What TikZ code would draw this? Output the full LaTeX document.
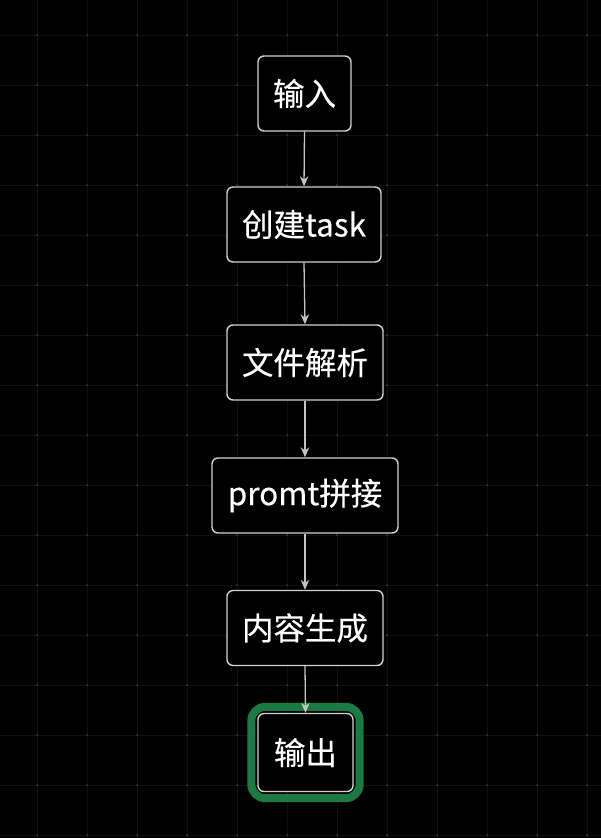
\documentclass[tikz,border=0pt]{standalone}
\usepackage{fontspec}
\newfontfamily\cjk[FakeBold=0.4]{Noto Sans CJK SC}
\usetikzlibrary{arrows.meta, fit}

\definecolor{bg}{HTML}{000000}
\definecolor{gridln}{HTML}{101010}
\definecolor{griddot}{HTML}{333333}
\definecolor{boxedge}{HTML}{D2D2D2}
\definecolor{linkc}{HTML}{C4C4C4}
\definecolor{donec}{HTML}{1B7A42}

\begin{document}
\begin{tikzpicture}[x=1pt, y=-1pt, >=Stealth,
      proc/.style={draw=boxedge, fill=bg, line width=1.4pt, rounded corners=6pt,
                   minimum height=75pt, inner xsep=15pt,
                   font=\cjk\fontsize{31.5}{38}\selectfont, text=white},
      link/.style={draw=linkc, line width=1.3pt,
                   -{Stealth[length=10pt, width=8.5pt]}},
      ring/.style={draw=donec, line width=8pt, rounded corners=14pt, inner sep=6pt}]

    % === background and grid ===
    \fill[bg] (0,0) rectangle (601,838);
    \useasboundingbox (0,0) rectangle (601,838);
    \foreach \gx in {37,87,...,587} \draw[gridln, line width=0.7pt] (\gx,0) -- (\gx,838);
    \foreach \gy in {35,85,...,835} \draw[gridln, line width=0.7pt] (0,\gy) -- (601,\gy);
    \foreach \gx in {37,87,...,587}
      \foreach \gy in {35,85,...,835}
        \fill[griddot] (\gx,\gy) circle (1.1);

    \def\cx{305} % column centre

    % === steps ===
    \node[proc, minimum width=93pt]  (input)  at (\cx-0.5, 93.5) {输入};
    \node[proc, minimum width=154pt] (task)   at (\cx-1, 224.5)  {创建task};
    \node[proc, minimum width=156pt] (parse)  at (\cx, 362.5)    {文件解析};
    \node[proc, minimum width=186pt] (prompt) at (\cx, 495.5)    {promt拼接};
    \node[proc, minimum width=156pt] (gen)    at (\cx, 628)      {内容生成};
    \node[proc, minimum width=95pt, minimum height=78pt] (output) at (\cx+0.5, 752.5) {输出};

    % === highlight of the last step ===
    \node[ring, fit=(output)] (outring) {};

    % === links ===
    \foreach \a/\b in {input/task, task/parse, parse/prompt, prompt/gen, gen/output}
      \draw[link] (\a.south) -- (\b.north);

\end{tikzpicture}
\end{document}
